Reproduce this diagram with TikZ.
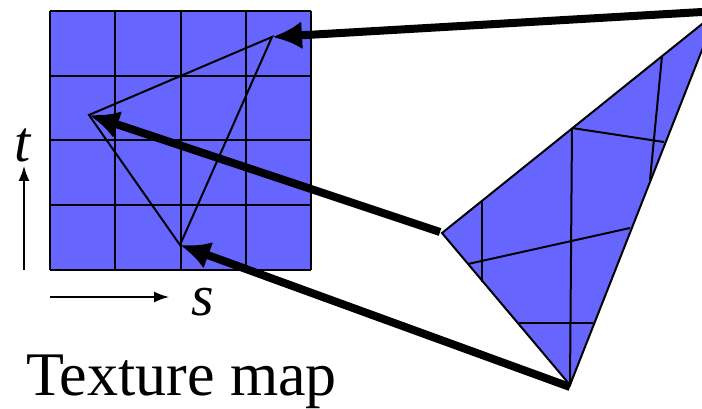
\documentclass[tikz,border=0pt]{standalone}
\usepackage{fontspec}
\setmainfont{Liberation Serif}
\usetikzlibrary{arrows.meta, positioning}
\definecolor{texblue}{RGB}{102,102,255}

\begin{document}
\begin{tikzpicture}[x=1pt, y=-1pt,
    thin line/.style={line width=2pt},
    big arrow/.style={line width=8pt, -{Latex[length=30pt,width=28pt]}},
    small arrow/.style={line width=1.6pt, -{Latex[length=15pt,width=11pt]}}]
    \useasboundingbox (0,0) rectangle (702,409);

    % texture map grid
    \fill[texblue] (50,11) rectangle (311,270);
    \foreach \i in {0,...,4} {
        \draw[thin line] (50+65.25*\i,11) -- (50+65.25*\i,270);
        \draw[thin line] (50,11+64.75*\i) -- (311,11+64.75*\i);
    }

    % triangle in texture space
    \coordinate (ta) at (272,37);
    \coordinate (tb) at (89,115);
    \coordinate (tc) at (180,245);
    \draw[thin line] (ta) -- (tb) -- (tc) -- cycle;

    % triangle on screen
    \coordinate (sa) at (717,12);
    \coordinate (sb) at (442,233);
    \coordinate (sc) at (570,385);
    \fill[texblue] (sa) -- (sb) -- (sc) -- cycle;
    \draw[thin line] (572,128) -- (570,385);
    \draw[thin line] (572,128) -- (664,142);
    \draw[thin line] (662,56) -- (650,180);
    \draw[thin line] (482,202) -- (482,282);
    \draw[thin line] (468,264) -- (630,228);
    \draw[thin line] (519,323) -- (593,323);
    \draw[thin line] (sa) -- (sb) -- (sc) -- cycle;

    % axes
    \coordinate (t0) at (24,270);
    \coordinate (t1) at (24,166);
    \coordinate (s0) at (50,297);
    \coordinate (s1) at (169,297);
    \draw[small arrow] (t0) -- (t1);
    \draw[small arrow] (s0) -- (s1);
    \node (tlabel) at (23,145) {\fontsize{58}{60}\selectfont\itshape t};
    \node (slabel) at (203,302) {\fontsize{58}{60}\selectfont\itshape s};
    \node[anchor=base west, inner sep=0pt] (title) at (26,395)
        {\fontsize{62}{64}\selectfont Texture map};

    % mapping arrows
    \coordinate (pa) at (702,12);
    \coordinate (pb) at (440,232);
    \coordinate (pc) at (570,387);
    \draw[big arrow] (pa) -- (ta);
    \draw[big arrow] (pb) -- (tb);
    \draw[big arrow] (pc) -- (tc);
\end{tikzpicture}
\end{document}
